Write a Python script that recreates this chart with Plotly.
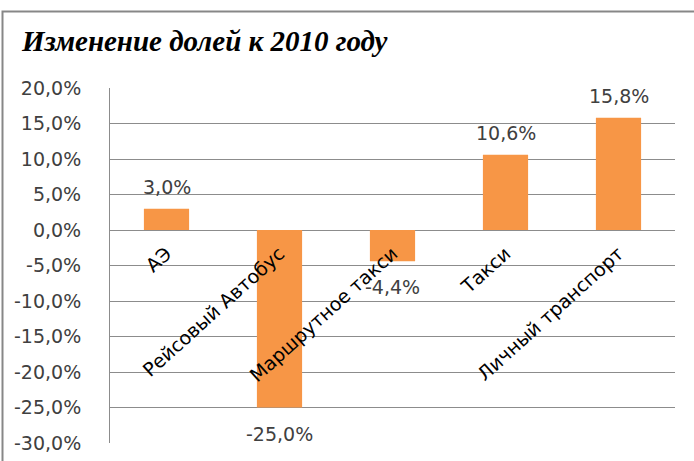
import plotly.graph_objects as go

categories = ["АЭ", "Рейсовый Автобус", "Маршрутное такси", "Такси", "Личный транспорт"]
values = [3.0, -25.0, -4.4, 10.6, 15.8]
value_labels = ["3,0%", "-25,0%", "-4,4%", "10,6%", "15,8%"]
tick_vals = [20, 15, 10, 5, 0, -5, -10, -15, -20, -25, -30]
tick_text = ["20,0%", "15,0%", "10,0%", "5,0%", "0,0%", "-5,0%", "-10,0%",
             "-15,0%", "-20,0%", "-25,0%", "-30,0%"]

W, H = 694, 461
L, R, T, B = 110, 19, 88, 18
pw, ph = W - L - R, H - T - B

font_family = "DejaVu Sans"
text_color = "#404040"
grid_color = "#8c8c8c"
fs = 19

fig = go.Figure()
fig.add_trace(go.Bar(
    x=categories, y=values,
    marker=dict(color="#F79646", line=dict(width=0)),
    width=0.4,
    hoverinfo="skip",
))

annotations = []
for c, v, t in zip(categories, values, value_labels):
    annotations.append(dict(
        x=c, y=v, xref="x", yref="y", text=t, showarrow=False,
        xanchor="center", yanchor="middle",
        yshift=22 if v >= 0 else -26,
        font=dict(family=font_family, size=fs, color=text_color),
    ))

# outer chart frame
frame = dict(
    type="rect", xref="paper", yref="paper",
    x0=(2.5 - L) / pw, x1=(W + 10 - L) / pw,
    y0=(H - B - (H + 10)) / ph, y1=(H - B - 11.5) / ph,
    line=dict(color="#878787", width=2), fillcolor="rgba(0,0,0,0)",
    layer="below",
)

fig.update_layout(
    width=W, height=H,
    margin=dict(l=L, r=R, t=T, b=B, pad=0, autoexpand=False),
    paper_bgcolor="white", plot_bgcolor="white",
    showlegend=False,
    bargap=0.6,
    title=dict(
        text="<b><i>Изменение долей к 2010 году</i></b>",
        font=dict(family="Liberation Serif", size=29, color="black"),
        xref="container", yref="container",
        x=22 / W, xanchor="left", y=1 - 41 / H, yanchor="middle",
        pad=dict(l=0, r=0, t=0, b=0),
        automargin=False,
    ),
    xaxis=dict(
        anchor="free", position=0.6, domain=[0, 1],
        automargin=False,
        showgrid=False, showline=False, zeroline=False,
        ticks="", tickangle=-42,
        tickfont=dict(family=font_family, size=fs, color="black"),
        ticklabelstandoff=8,
    ),
    yaxis=dict(
        range=[-30, 20], domain=[0, 1],
        automargin=False,
        tickvals=tick_vals, ticktext=tick_text,
        showgrid=True, gridcolor=grid_color, gridwidth=1,
        zeroline=True, zerolinecolor=grid_color, zerolinewidth=1,
        showline=True, linecolor=grid_color, linewidth=1,
        ticks="", ticklabelstandoff=24,
        tickfont=dict(family=font_family, size=fs, color=text_color),
    ),
    annotations=annotations,
    shapes=[frame],
)

fig.write_html(
    "out.html",
    config={"displayModeBar": False},
    post_script="document.body.style.margin='0px';document.body.style.overflow='hidden';",
)
